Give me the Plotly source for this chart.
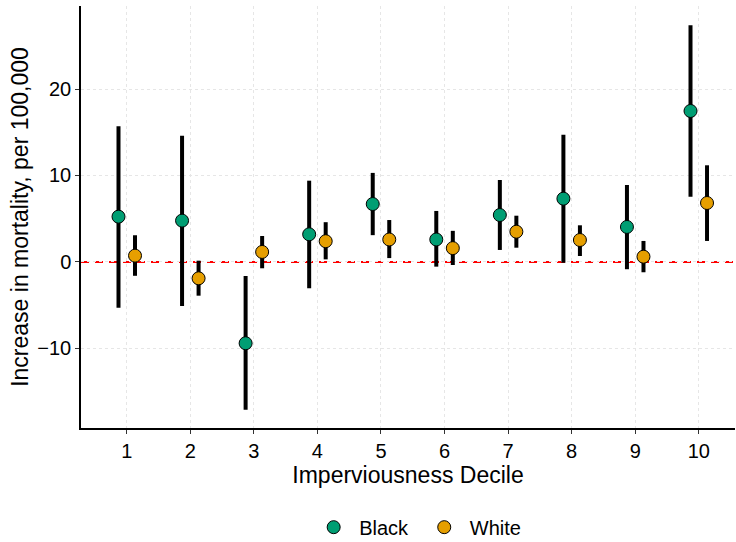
import plotly.graph_objects as go

deciles = [1, 2, 3, 4, 5, 6, 7, 8, 9, 10]
tick_labels = ["1", "2", "3", "4", "5", "6", "7", "8", "9", "10"]

black_est = [5.24, 4.78, -9.4, 3.2, 6.7, 2.6, 5.43, 7.32, 4.05, 17.46]
black_hi = [15.7, 14.6, -1.62, 9.4, 10.3, 5.9, 9.48, 14.7, 8.9, 27.36]
black_lo = [-5.28, -5.09, -17.1, -3.04, 3.1, -0.54, 1.39, -0.08, -0.84, 7.55]

white_est = [0.73, -1.89, 1.16, 2.4, 2.6, 1.6, 3.5, 2.54, 0.61, 6.82]
white_hi = [3.09, 0.15, 3.0, 4.6, 4.85, 3.6, 5.35, 4.24, 2.43, 11.18]
white_lo = [-1.6, -3.9, -0.73, 0.3, 0.45, -0.35, 1.65, 0.69, -1.19, 2.43]

dodge = 0.13
FONT = "Liberation Sans"

fig = go.Figure()


def add_series(name, est, hi, lo, color, offset):
    xs = [d + offset for d in deciles]
    fig.add_trace(go.Scatter(
        x=xs, y=est, mode="markers", name="\u00a0" + name + "\u00a0\u00a0",
        marker=dict(size=13, color=color, line=dict(color="black", width=1)),
        error_y=dict(type="data", symmetric=False,
                     array=[h - e for h, e in zip(hi, est)],
                     arrayminus=[e - l for e, l in zip(est, lo)],
                     color="black", thickness=4, width=0),
    ))


add_series("Black", black_est, black_hi, black_lo, "#009E73", -dodge)
add_series("White", white_est, white_hi, white_lo, "#E69F00", dodge)

fig.add_shape(type="line", xref="paper", x0=0, x1=1, yref="y", y0=0, y1=0,
              line=dict(color="#ff0000", width=2, dash="8px,6px"), layer="between")

fig.update_layout(
    width=736, height=542,
    margin=dict(l=81, r=1, t=6, b=114, autoexpand=False),
    paper_bgcolor="white", plot_bgcolor="white",
    font=dict(family=FONT, size=19, color="black"),
    showlegend=True,
    legend=dict(orientation="h", x=0.527, xanchor="center", y=-0.235, yanchor="middle",
                font=dict(size=20), itemwidth=30),
    xaxis=dict(range=[0.28, 10.57], tickmode="array", tickvals=deciles, ticktext=tick_labels,
               showline=True, linecolor="black", linewidth=1.5, ticks="outside",
               ticklen=4, tickcolor="#333333", showgrid=True, gridcolor="#e6e6e6",
               griddash="dot", gridwidth=1, zeroline=False,
               title=dict(text="Imperviousness Decile", standoff=6),
               tickfont=dict(size=20)),
    yaxis=dict(range=[-19.2, 29.6], tickvals=[-10, 0, 10, 20],
               showline=True, linecolor="black", linewidth=1.5, ticks="outside",
               ticklen=4, tickcolor="#333333", showgrid=True, gridcolor="#e6e6e6",
               griddash="dot", gridwidth=1, zeroline=False,
               title=dict(text="Increase in mortality, per 100,000", standoff=2),
               tickfont=dict(size=20)),
)

fig.write_html("out.html")
